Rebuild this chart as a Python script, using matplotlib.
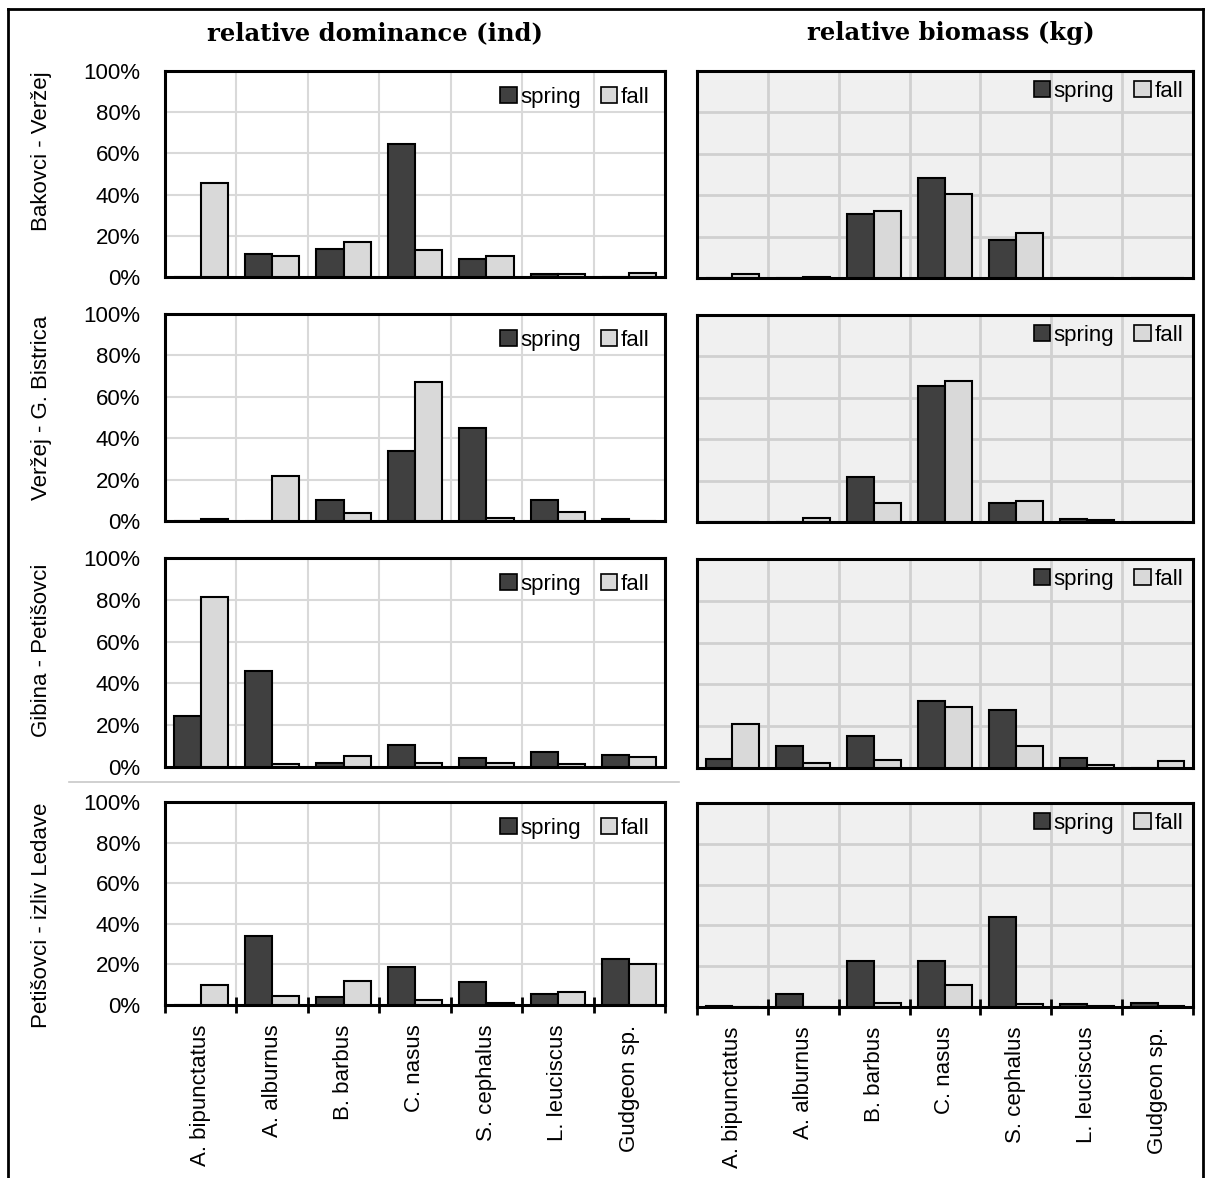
import matplotlib
matplotlib.use("Agg")
import matplotlib.pyplot as plt
from matplotlib.patches import Patch, Rectangle
from matplotlib.lines import Line2D
import numpy as np

plt.rcParams['font.family'] = ['Liberation Sans', 'DejaVu Sans']

species = ["A. bipunctatus", "A. alburnus", "B. barbus", "C. nasus",
           "S. cephalus", "L. leuciscus", "Gudgeon sp."]
sites = ["Bakovci - Veržej", "Veržej - G. Bistrica", "Gibina - Petišovci",
         "Petišovci - izliv Ledave"]
col_titles = ["relative dominance (ind)", "relative biomass (kg)"]
yticks = [0, 20, 40, 60, 80, 100]
ytick_labels = ["0%", "20%", "40%", "60%", "80%", "100%"]

# relative dominance (ind), %
dom_spring_1 = [0, 11.3, 13.4, 64.7, 8.9, 1.3, 0]
dom_fall_1 = [45.8, 10.0, 16.8, 13.2, 10.0, 1.3, 2.0]
dom_spring_2 = [0, 0, 10.2, 33.7, 45.0, 10.2, 0.8]
dom_fall_2 = [0.8, 21.8, 3.9, 67.1, 1.5, 4.5, 0]
dom_spring_3 = [24.3, 45.9, 1.9, 10.7, 4.5, 7.0, 5.6]
dom_fall_3 = [81.4, 1.3, 5.4, 1.9, 1.9, 1.3, 4.8]
dom_spring_4 = [0, 34.0, 4.1, 18.8, 11.2, 5.5, 22.6]
dom_fall_4 = [9.8, 4.5, 11.7, 2.6, 0.8, 6.6, 20.0]

# relative biomass (kg), %
bio_spring_1 = [0, 0, 31.0, 48.4, 18.2, 0, 0]
bio_fall_1 = [1.8, 0.6, 32.3, 40.4, 21.7, 0, 0]
bio_spring_2 = [0, 0, 21.5, 65.6, 9.0, 1.6, 0]
bio_fall_2 = [0, 2.1, 9.0, 68.2, 10.3, 1.0, 0]
bio_spring_3 = [4.3, 10.6, 15.5, 32.2, 27.8, 5.0, 0]
bio_fall_3 = [21.1, 2.6, 3.8, 29.1, 10.6, 1.3, 3.2]
bio_spring_4 = [0.3, 6.2, 22.6, 22.6, 43.9, 1.3, 2.0]
bio_fall_4 = [0.2, 0.2, 2.1, 10.9, 1.3, 0.5, 0.6]

dom = [(dom_spring_1, dom_fall_1), (dom_spring_2, dom_fall_2),
       (dom_spring_3, dom_fall_3), (dom_spring_4, dom_fall_4)]
bio = [(bio_spring_1, bio_fall_1), (bio_spring_2, bio_fall_2),
       (bio_spring_3, bio_fall_3), (bio_spring_4, bio_fall_4)]

W, H = 1205, 1178
fig = plt.figure(figsize=(W / 100, H / 100), dpi=100)
fig.patch.set_facecolor("white")

def px_axes(x0, y0, x1, y1):
    return fig.add_axes([x0 / W, 1 - y1 / H, (x1 - x0) / W, (y1 - y0) / H])

left_rows = [(71, 277), (314, 521), (558, 767), (802, 1005)]
right_rows = [(71, 278), (315, 522), (559, 768), (803, 1007)]
left_x = (165, 665)
right_x = (697, 1193)

SPRING = "#404040"
FALL = "#d9d9d9"
FS = 16

def draw_panel(ax, spring, fall, right, bottom):
    x = np.arange(len(species))
    bw = 0.38
    ax.set_facecolor("#f0f0f0" if right else "white")
    ax.bar(x - bw / 2, spring, bw, color=SPRING, edgecolor="black", linewidth=1.5, zorder=3)
    ax.bar(x + bw / 2, fall, bw, color=FALL, edgecolor="black", linewidth=1.5, zorder=3)
    ax.set_xlim(-0.5, len(species) - 0.5)
    ax.set_ylim(0, 100)
    ax.set_yticks(yticks)
    ax.set_xticks(np.arange(-0.5, len(species), 1.0))
    ax.grid(True, color="#d0d0d0" if right else "#d9d9d9",
            linewidth=2.0 if right else 1.5, zorder=0)
    ax.set_axisbelow(True)
    for s in ax.spines.values():
        s.set_linewidth(2.2)
        s.set_color("black")
    if right:
        ax.set_yticklabels([])
    else:
        ax.set_yticklabels(ytick_labels, fontsize=FS)
    ax.tick_params(axis="y", length=0, pad=18)
    if bottom:
        ax.set_xticklabels([])
        ax.tick_params(axis="x", direction="inout", length=12, width=2, color="black")
        ax.set_xticks(x, minor=True)
        ax.set_xticklabels(species, minor=True, rotation=90, fontsize=FS,
                           va="top", ha="center")
        ax.tick_params(axis="x", which="minor", length=0, pad=14)
    else:
        ax.set_xticklabels([])
        ax.tick_params(axis="x", length=0)
    handles = [Patch(facecolor=SPRING, edgecolor="black", linewidth=1.2, label="spring"),
               Patch(facecolor=FALL, edgecolor="black", linewidth=1.2, label="fall")]
    ax.legend(handles=handles, loc="upper right", ncol=2, frameon=False,
              fontsize=FS, handlelength=0.75, handleheight=0.75,
              handletextpad=0.15, columnspacing=0.9,
              borderaxespad=0.25 if right else 0.5, borderpad=0.2)

for r in range(4):
    axl = px_axes(left_x[0], left_rows[r][0], left_x[1], left_rows[r][1])
    draw_panel(axl, dom[r][0], dom[r][1], right=False, bottom=(r == 3))
    axr = px_axes(right_x[0], right_rows[r][0], right_x[1], right_rows[r][1])
    draw_panel(axr, bio[r][0], bio[r][1], right=True, bottom=(r == 3))

# column titles
fig.text(375 / W, 1 - 33 / H, col_titles[0], ha="center", va="center",
         fontsize=17.5, fontweight="bold", family="DejaVu Serif")
fig.text(951 / W, 1 - 33 / H, col_titles[1], ha="center", va="center",
         fontsize=17.5, fontweight="bold", family="DejaVu Serif")

# row labels
row_label_y = [151, 408, 650, 915]
for name, yc in zip(sites, row_label_y):
    fig.text(42 / W, 1 - yc / H, name, rotation=90, ha="center", va="center",
             fontsize=FS)

# outer frame and separator line
fig.add_artist(Line2D([8 / W, 8 / W], [0, 1 - 9 / H], color="black", linewidth=2,
                      transform=fig.transFigure))
fig.add_artist(Line2D([8 / W, 1203 / W], [1 - 9 / H, 1 - 9 / H], color="black",
                      linewidth=2, transform=fig.transFigure))
fig.add_artist(Line2D([1203 / W, 1203 / W], [0, 1 - 9 / H], color="black",
                      linewidth=2, transform=fig.transFigure))
fig.add_artist(Line2D([69 / W, 679 / W], [1 - 782 / H, 1 - 782 / H], color="#c8c8c8",
                      linewidth=1.2, transform=fig.transFigure))

fig.savefig("out.png", dpi=100)
